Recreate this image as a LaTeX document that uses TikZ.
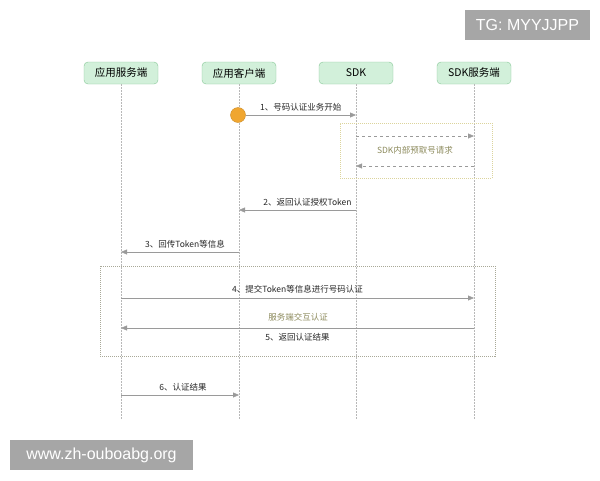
\documentclass[tikz,border=0pt]{standalone}
\usepackage{fontspec}
\setmainfont{Noto Sans CJK SC}
\newfontfamily\markfont{Liberation Sans}
\usetikzlibrary{positioning, arrows.meta}
\definecolor{hdrfill}{HTML}{D2F0DA}
\definecolor{hdrline}{HTML}{86C796}
\definecolor{msgline}{HTML}{9A9A9A}
\definecolor{boxline}{HTML}{A8A898}
\definecolor{preline}{HTML}{DCD49C}
\definecolor{olive}{HTML}{8C8A5C}
\definecolor{dot}{HTML}{F0A630}
\tikzset{actor/.style={draw=hdrline,fill=hdrfill,rounded corners=4pt,minimum width=74pt,minimum height=22pt,font=\fontsize{10.5}{12}\selectfont},
         lifeline/.style={draw=msgline!70,dashed,dash pattern=on 1.5pt off 1.5pt},
         msg/.style={draw=msgline,-{Triangle[length=6pt,width=5pt]}},
         msglabel/.style={font=\fontsize{8.5}{10}\selectfont,text=black!85,inner sep=1pt},
         group/.style={draw=boxline,dash pattern=on 1pt off 1pt},
         watermark/.style={fill=black!35,text=white,inner sep=0pt,font=\markfont\fontsize{16}{18}\selectfont},
        }

\begin{document}
\begin{tikzpicture}[x=1pt,y=-1pt]
        \useasboundingbox (0,0) rectangle (600,480);

        \node[actor](srv)at(121,73){应用服务端};
        \node[actor](cli)at(239,73){应用客户端};
        \node[actor](sdk)at(356,73){SDK};
        \node[actor](sdks)at(474,73){SDK服务端};

        \coordinate(srvE)at(121,420);
        \coordinate(cliE)at(239,420);
        \coordinate(sdkE)at(356,420);
        \coordinate(sdksE)at(474,420);

        \draw[lifeline](srv.south)--(srvE);
        \draw[lifeline](cli.south)--(cliE);
        \draw[lifeline](sdk.south)--(sdkE);
        \draw[lifeline](sdks.south)--(sdksE);

        % group boxes
        \node[group,draw=preline,minimum width=152pt,minimum height=55pt](pre)at(416,150.5){};
        \node[group,minimum width=395pt,minimum height=90pt](auth)at(297.5,311){};

        % step 1
        \node[circle,fill=dot,draw=dot!85!black,minimum size=15pt,inner sep=0pt](start)at(238,115){};
        \coordinate(s1)at(356,115);
        \draw[msg](start)--(s1) node[msglabel,midway,above=3pt]{1、号码认证业务开始};

        % prefetch
        \coordinate(p1a)at(356,136);
        \coordinate(p1b)at(474,136);
        \coordinate(p2a)at(474,166);
        \coordinate(p2b)at(356,166);
        \draw[msg,dashed](p1a)--(p1b);
        \draw[msg,dashed](p2a)--(p2b);
        \node[msglabel,text=olive](pretxt)at(415,150){SDK内部预取号请求};

        % step 2
        \coordinate(s2a)at(356,210);
        \coordinate(s2b)at(239,210);
        \draw[msg](s2a)--(s2b) node[msglabel,midway,above=3pt,xshift=10pt]{2、返回认证授权Token};

        % step 3
        \coordinate(s3a)at(239,252);
        \coordinate(s3b)at(121,252);
        \draw[msg](s3a)--(s3b) node[msglabel,midway,above=3pt,xshift=5pt]{3、回传Token等信息};

        % step 4
        \coordinate(s4a)at(121,298);
        \coordinate(s4b)at(474,298);
        \draw[msg](s4a)--(s4b) node[msglabel,midway,above=4pt]{4、提交Token等信息进行号码认证};
        \node[msglabel,text=olive](authtxt)at(298,317){服务端交互认证};

        % step 5
        \coordinate(s5a)at(474,328);
        \coordinate(s5b)at(121,328);
        \draw[msg](s5a)--(s5b) node[msglabel,midway,below=4pt]{5、返回认证结果};

        % step 6
        \coordinate(s6a)at(121,395);
        \coordinate(s6b)at(239,395);
        \draw[msg](s6a)--(s6b) node[msglabel,midway,above=3pt,xshift=3pt]{6、认证结果};

        % watermarks
        \node[watermark,minimum width=125pt,minimum height=30pt](tg)at(527.5,25){TG: MYYJJPP};
        \node[watermark,minimum width=183pt,minimum height=30pt](url)at(101.5,455){www.zh-ouboabg.org};
    \end{tikzpicture}
\end{document}
